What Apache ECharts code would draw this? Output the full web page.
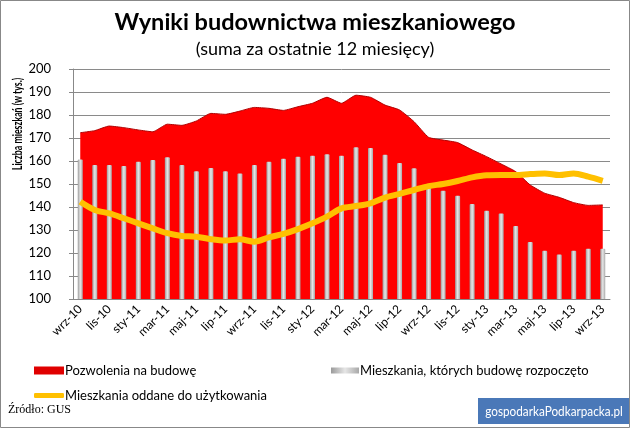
<!DOCTYPE html>
<html><head><meta charset="utf-8">
<script src="https://cdn.jsdelivr.net/npm/echarts@6/dist/echarts.min.js"></script>
<style>html,body{margin:0;padding:0;background:#fff}#c{width:630px;height:428px}</style>
</head><body><div id="c"></div>
<script>
const categories = ['wrz-10','paź-10','lis-10','gru-10','sty-11','lut-11','mar-11','kwi-11','maj-11','cze-11','lip-11','sie-11','wrz-11','paź-11','lis-11','gru-11','sty-12','lut-12','mar-12','kwi-12','maj-12','cze-12','lip-12','sie-12','wrz-12','paź-12','lis-12','gru-12','sty-13','lut-13','mar-13','kwi-13','maj-13','cze-13','lip-13','sie-13','wrz-13'];
const pozwolenia = [172.3,173.2,175.2,174.5,173.5,172.7,176.0,175.5,177.4,180.7,180.3,181.7,183.3,182.9,182.0,183.6,185.1,187.7,185.1,188.6,187.7,184.3,182.2,177.1,170.3,169.1,168.0,164.8,161.9,158.7,155.4,149.6,146.0,144.2,141.9,140.7,140.9];
const rozpoczete = [160.7,158.3,158.3,157.8,159.7,160.4,161.6,158.3,155.5,157.0,155.5,154.6,158.3,159.7,161.0,161.9,162.3,162.9,162.3,166.0,165.7,162.7,159.1,156.8,148.5,147.1,144.9,141.3,138.4,137.2,131.7,124.8,121.0,119.3,121.0,121.9,121.9];
const oddane = [142.3,138.7,137.2,135.1,132.9,130.7,128.6,127.4,127.1,126.0,125.4,126.0,124.9,126.8,128.3,130.4,132.9,135.8,139.4,140.4,141.6,144.1,145.7,147.4,149.1,150.0,151.3,152.9,153.8,153.9,153.9,154.3,154.6,153.9,154.6,153.2,151.4];
const yTicks = [100,110,120,130,140,150,160,170,180,190,200];
const names = ['Pozwolenia na budowę','Mieszkania, których budowę rozpoczęto','Mieszkania oddane do użytkowania'];

const font = 'Lato, "Open Sans", sans-serif';
const chart = echarts.init(document.getElementById('c'), null, {renderer:'canvas'});
chart.setOption({
  animation:false,
  backgroundColor:'#fff',
  title:[
    {text:'Wyniki budownictwa mieszkaniowego', left:'center', top:5, textStyle:{fontFamily:font, fontSize:23.5, fontWeight:'bold', color:'#000'}},
    {text:'(suma za ostatnie 12 miesięcy)', left:'center', top:35, textStyle:{fontFamily:font, fontSize:18, fontWeight:'normal', color:'#000'}}
  ],
  grid:{left:73, right:20, top:69, bottom:129},
  legend:[
    {data:[names[0]], left:29, top:359, itemWidth:30, itemHeight:8, itemGap:0, icon:'rect', textStyle:{fontFamily:font, fontSize:13, color:'#000', padding:[0,0,0,-4]}},
    {data:[names[1]], left:326, top:359, itemWidth:28, itemHeight:6, icon:'rect', textStyle:{fontFamily:font, fontSize:13, color:'#000', padding:[0,0,0,-4]}},
    {data:[names[2]], left:29, top:384, itemWidth:30, itemHeight:5, icon:'roundRect', textStyle:{fontFamily:font, fontSize:13, color:'#000', padding:[0,0,0,-4]}}
  ],
  xAxis:{
    type:'category', data:categories, boundaryGap:true,
    axisLine:{lineStyle:{color:'#888'}},
    axisTick:{interval:0, length:4, lineStyle:{color:'#888'}},
    axisLabel:{interval:1, rotate:45, fontFamily:font, fontSize:12, color:'#000', margin:8}
  },
  yAxis:{
    type:'value', min:100, max:200, interval:10,
    axisLine:{show:true, lineStyle:{color:'#888'}},
    axisTick:{show:true, length:4, lineStyle:{color:'#888'}},
    axisLabel:{fontFamily:font, fontSize:13, color:'#000', margin:22},
    splitLine:{lineStyle:{color:'#8a8a8a', width:1}}
  },
  series:[
    {name:names[0], type:'line', data:pozwolenia, symbol:'none', smooth:0.15, z:1,
     itemStyle:{color:'#e00000'},
     lineStyle:{color:'#b00000', width:1},
     areaStyle:{color:'#ff0000', opacity:1}},
    {name:names[1], type:'bar', data:rozpoczete, barWidth:5, z:2,
     itemStyle:{color:new echarts.graphic.LinearGradient(0,0,1,0,[{offset:0,color:'#9a9a9a'},{offset:0.5,color:'#e6e6e6'},{offset:1,color:'#a8a8a8'}]), borderRadius:[1,1,0,0]}},
    {name:names[2], type:'line', data:oddane, symbol:'none', smooth:0.3, z:3,
     itemStyle:{color:'#ffc000'},
     lineStyle:{color:'#ffc000', width:6}}
  ],
  graphic:[
    {type:'text', x:18, y:124, rotation:Math.PI/2, scaleX:0.7, style:{text:'Liczba mieszkań (w tys.)', fontFamily:font, fontSize:12.5, fontWeight:'bold', fill:'#000', align:'center', verticalAlign:'middle'}},
    {type:'text', x:8, y:404, style:{text:'Źródło: GUS', fontFamily:'"Liberation Serif", serif', fontSize:12, fill:'#000'}},
    {type:'rect', shape:{x:478, y:398, width:152, height:26}, style:{fill:'#4a78b8'}},
    {type:'text', x:554, y:411, scaleX:0.84, style:{text:'gospodarkaPodkarpacka.pl', fontFamily:font, fontSize:14, fill:'#fff', align:'center', verticalAlign:'middle'}},
    {type:'rect', shape:{x:0.5, y:0.5, width:629, height:427}, style:{fill:'none', stroke:'#888', lineWidth:1}, z:100}
  ]
});
</script></body></html>
